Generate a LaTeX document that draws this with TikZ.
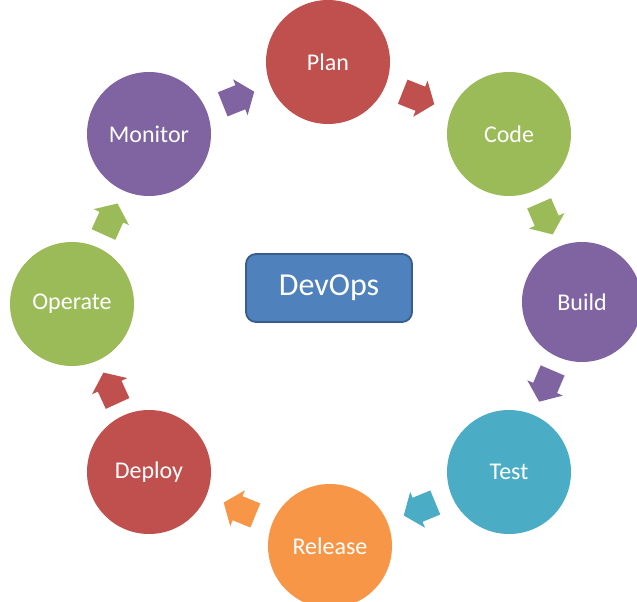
\documentclass[tikz,border=0pt]{standalone}
\usepackage{fontspec}
\setmainfont{Carlito}
\usetikzlibrary{arrows.meta}
\definecolor{cred}{HTML}{C0504D}
\definecolor{cgreen}{HTML}{9BBB59}
\definecolor{cpurple}{HTML}{8064A2}
\definecolor{cblue}{HTML}{4BACC6}
\definecolor{corange}{HTML}{F79646}
\definecolor{boxfill}{HTML}{4F81BD}
\definecolor{boxline}{HTML}{385D8A}
\tikzset{
  circ/.style={circle, minimum size=124pt, inner sep=0pt, outer sep=0pt, text=white,
    font=\fontsize{24}{26}\selectfont},
  blockarrow/.style={line width=26pt, -{Triangle[length=15pt,width=38pt]}},
}
\begin{document}
\begin{tikzpicture}[x=1pt,y=-1pt]
\useasboundingbox (0,0) rectangle (637,602);
\clip (0,0) rectangle (637,602);
\fill[white] (0,0) rectangle (637,602);
\node[circ, fill=cred] (plan) at (328,62) {Plan};
\node[circ, fill=cgreen] (code) at (509,134) {Code};
\node[circ, fill=cpurple, minimum size=120pt] (build) at (582,302) {Build};
\node[circ, fill=cblue] (test) at (509,472) {Test};
\node[circ, fill=corange] (release) at (330,546) {Release};
\node[circ, fill=cred] (deploy) at (149,472) {Deploy};
\node[circ, fill=cgreen] (operate) at (72,304) {Operate};
\node[circ, fill=cpurple] (monitor) at (149,134) {Monitor};
\node[draw=boxline, line width=1.8pt, fill=boxfill, rounded corners=10pt,
  minimum width=166pt, minimum height=68pt, text=white,
  font=\fontsize{32}{34}\selectfont] (devops) at (329,288) {DevOps};
\draw[blockarrow, cred, shorten <=18.4pt, shorten >=18.4pt] (plan) -- (code);
\draw[blockarrow, cgreen, shorten <=13.6pt, shorten >=13.6pt] (code) -- (build);
\draw[blockarrow, cpurple, shorten <=14.5pt, shorten >=14.5pt] (build) -- (test);
\draw[blockarrow, cblue, shorten <=17.8pt, shorten >=17.8pt] (test) -- (release);
\draw[blockarrow, corange, shorten <=18.7pt, shorten >=18.7pt] (release) -- (deploy);
\draw[blockarrow, cred, shorten <=13.4pt, shorten >=13.4pt] (deploy) -- (operate);
\draw[blockarrow, cgreen, shorten <=14.3pt, shorten >=14.3pt] (operate) -- (monitor);
\draw[blockarrow, cpurple, shorten <=17.5pt, shorten >=17.5pt] (monitor) -- (plan);
\end{tikzpicture}
\end{document}
